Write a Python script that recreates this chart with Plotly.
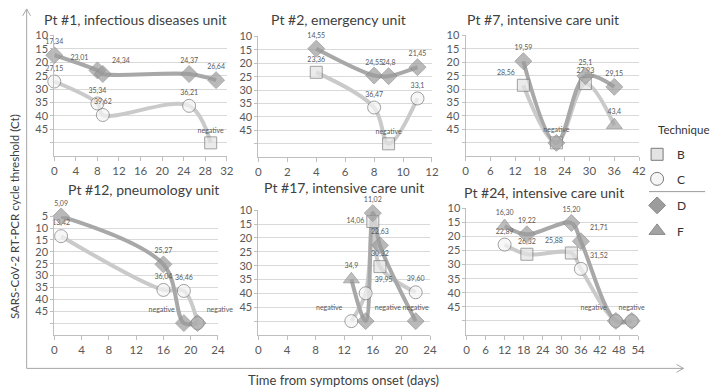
import plotly.graph_objects as go

W, H = 722, 389
NEG = "negative"
NEG_CT = 50  # plotting level used for negative results

# ---------------- data ----------------
titles = ["Pt #1, infectious diseases unit", "Pt #2, emergency unit",
          "Pt #7, intensive care unit", "Pt #12, pneumology unit",
          "Pt #17, intensive care unit", "Pt #24, intensive care unit"]

# series a (darker line) / series b (lighter line) per patient
p1_days_a = [0, 8, 9, 25, 30]
p1_ct_a = ["17,34", "23,01", "24,34", "24,37", "26,64"]
p1_tech_a = ["D", "D", "D", "D", "D"]
p1_days_b = [0, 8, 9, 25, 29]
p1_ct_b = ["27,15", "35,34", "39,62", "36,21", NEG]
p1_tech_b = ["C", "C", "C", "C", "B"]

p2_days_a = [4, 8, 9, 11]
p2_ct_a = ["14,55", "24,55", "24,8", "21,45"]
p2_tech_a = ["D", "D", "D", "D"]
p2_days_b = [4, 8, 9, 11]
p2_ct_b = ["23,36", "36,47", NEG, "33,1"]
p2_tech_b = ["B", "C", "B", "C"]

p7_days_a = [14, 22, 29, 36]
p7_ct_a = ["19,59", NEG, "25,1", "29,15"]
p7_tech_a = ["D", "D", "D", "D"]
p7_days_b = [14, 22, 29, 36]
p7_ct_b = ["28,56", NEG, "27,93", "43,4"]
p7_tech_b = ["B", "B", "B", "F"]

p12_days_a = [1, 16, 19, 21]
p12_ct_a = ["5,09", "25,27", NEG, NEG]
p12_tech_a = ["D", "D", "D", "D"]
p12_days_b = [1, 16, 19, 21]
p12_ct_b = ["13,42", "36,04", "36,46", NEG]
p12_tech_b = ["C", "C", "C", "C"]

p17_days_a = [13, 15, 16, 17, 22]
p17_ct_a = ["34,9", NEG, "11,02", "22,63", NEG]
p17_tech_a = ["F", "D", "D", "D", "D"]
p17_days_b = [13, 15, 16, 17, 22]
p17_ct_b = [NEG, "39,95", "14,06", "30,32", "39,60"]
p17_tech_b = ["C", "C", "B", "B", "C"]

p24_days_a = [12, 19, 33, 36, 47, 52]
p24_ct_a = ["16,30", "19,22", "15,20", "21,71", NEG, NEG]
p24_tech_a = ["F", "D", "D", "D", "D", "D"]
p24_days_b = [12, 19, 33, 36, 47, 52]
p24_ct_b = ["22,89", "26,32", "25,88", "31,52", NEG, NEG]
p24_tech_b = ["C", "B", "B", "C", "C", "C"]

x_ticks = [[0, 4, 8, 12, 16, 20, 24, 28, 32],
           [0, 2, 4, 6, 8, 10, 12],
           [0, 6, 12, 18, 24, 30, 36, 42],
           [0, 4, 8, 12, 16, 20, 24],
           [0, 4, 8, 12, 16, 20, 24],
           [0, 6, 12, 18, 24, 30, 36, 42, 48, 54]]
y_ticks_row1 = [10, 15, 20, 25, 30, 35, 40, 45]
y_ticks_p12 = [5, 10, 15, 20, 25, 30, 35, 40, 45]

techniques = ["B", "C", "D", "F"]

panels = [
    (p1_days_a, p1_ct_a, p1_tech_a, p1_days_b, p1_ct_b, p1_tech_b),
    (p2_days_a, p2_ct_a, p2_tech_a, p2_days_b, p2_ct_b, p2_tech_b),
    (p7_days_a, p7_ct_a, p7_tech_a, p7_days_b, p7_ct_b, p7_tech_b),
    (p12_days_a, p12_ct_a, p12_tech_a, p12_days_b, p12_ct_b, p12_tech_b),
    (p17_days_a, p17_ct_a, p17_tech_a, p17_days_b, p17_ct_b, p17_tech_b),
    (p24_days_a, p24_ct_a, p24_tech_a, p24_days_b, p24_ct_b, p24_tech_b),
]
y_ticks = [y_ticks_row1, y_ticks_row1, y_ticks_row1, y_ticks_p12, y_ticks_row1, y_ticks_row1]

# ---------------- layout geometry (pixels) ----------------
boxes = [(52, 227, 29, 152), (259, 435, 30, 153), (469, 645, 29, 152),
         (52, 218, 213, 334), (259, 433, 207, 334), (470, 644, 205, 334)]
title_pos = [(134, 13), (340, 13), (548, 13), (142, 186), (346, 184), (549, 189)]

def px(x):
    return x / W

def py(y):
    return 1 - y / H

FONT = "Lato"
STY = {
    "B": dict(symbol="square", size=12, color="#e3e3e3", line="#7a7a7a"),
    "C": dict(symbol="circle", size=13, color="#f5f5f5", line="#7a7a7a"),
    "D": dict(symbol="diamond", size=13, color="#9c9c9c", line="#8a8a8a"),
    "F": dict(symbol="triangle-up", size=14, color="#a3a3a3", line="#8a8a8a"),
}
LINE_COL = {"a": "#a8a8a8", "b": "#cacaca"}

# text position overrides: (panel, series, index) -> position
TPOS = {
    (0, "a", 1): "top left", (0, "a", 2): "top right",
    (2, "b", 0): "top left",
    (3, "a", 2): "top left", (3, "a", 3): "top right",
    (4, "b", 2): "middle left", (4, "b", 1): "top right",
    (4, "b", 0): "top left", (4, "a", 1): "top right",
    (5, "b", 2): "top left", (5, "a", 3): "top right", (5, "b", 3): "top right",
    (5, "a", 4): "top left",
}

def to_ct(s):
    return NEG_CT if s == NEG else float(s.replace(",", "."))

fig = go.Figure()
line_traces, marker_traces = [], []
for i, (da, ca, ta, db, cb, tb) in enumerate(panels):
    xa = "x" if i == 0 else f"x{i+1}"
    ya = "y" if i == 0 else f"y{i+1}"
    neg_days_a = {d for d, c in zip(da, ca) if c == NEG}
    for key, days, cts, techs in (("b", db, cb, tb), ("a", da, ca, ta)):
        yv = [to_ct(c) for c in cts]
        line_traces.append(go.Scatter(
            x=days, y=yv, xaxis=xa, yaxis=ya, mode="lines",
            line=dict(color=LINE_COL[key], width=4, shape="spline", smoothing=1),
            hoverinfo="skip", showlegend=False, cliponaxis=False))
        texts = []
        for d, c in zip(days, cts):
            if key == "b" and c == NEG and d in neg_days_a:
                texts.append("")
            else:
                texts.append(c)
        tpos = [TPOS.get((i, key, k), "top center") for k in range(len(days))]
        marker_traces.append(go.Scatter(
            x=days, y=yv, xaxis=xa, yaxis=ya, mode="markers+text",
            text=texts, textposition=tpos,
            textfont=dict(family=FONT, size=7, color="#595959"),
            marker=dict(symbol=[STY[t]["symbol"] for t in techs],
                        size=[STY[t]["size"] for t in techs],
                        color=[STY[t]["color"] for t in techs],
                        line=dict(color=[STY[t]["line"] for t in techs], width=1)),
            showlegend=False, cliponaxis=False))
for t in line_traces + marker_traces:
    fig.add_trace(t)

# legend entries (one legend per technique for exact placement)
leg_y = {"B": 150, "C": 175, "D": 202, "F": 228}
for j, t in enumerate(techniques):
    lname = "legend" if j == 0 else f"legend{j+1}"
    fig.add_trace(go.Scatter(
        x=[None], y=[None], mode="markers", name=t, legend=lname,
        marker=dict(symbol=STY[t]["symbol"], size=STY[t]["size"], color=STY[t]["color"],
                    line=dict(color=STY[t]["line"], width=1))))

layout = dict(
    width=W, height=H, margin=dict(l=0, r=0, t=0, b=0),
    paper_bgcolor="white", plot_bgcolor="white",
    font=dict(family=FONT, color="#404040"),
)
for j, t in enumerate(techniques):
    lname = "legend" if j == 0 else f"legend{j+1}"
    layout[lname] = dict(x=px(643), y=py(leg_y[t]), xanchor="left", yanchor="middle",
                         font=dict(family=FONT, size=12, color="#333333"),
                         bgcolor="rgba(0,0,0,0)", borderwidth=0,
                         tracegroupgap=0)

for i, (x0, x1, y0, y1) in enumerate(boxes):
    xk = "xaxis" if i == 0 else f"xaxis{i+1}"
    yk = "yaxis" if i == 0 else f"yaxis{i+1}"
    ya = "y" if i == 0 else f"y{i+1}"
    xa = "x" if i == 0 else f"x{i+1}"
    xt = x_ticks[i]
    yt = y_ticks[i]
    layout[xk] = dict(domain=[px(x0), px(x1)], range=[xt[0], xt[-1]], anchor=ya,
                      tickvals=xt, ticktext=[str(v) for v in xt],
                      showline=True, linecolor="#bfbfbf", linewidth=1,
                      ticks="outside", ticklen=4, tickcolor="#bfbfbf",
                      showgrid=False, zeroline=False,
                      tickfont=dict(family=FONT, size=11.5, color="#595959"))
    layout[yk] = dict(domain=[py(y1), py(y0)], range=[55, yt[0]], anchor=xa,
                      tickvals=yt + [50], ticktext=[str(v) for v in yt] + [""],
                      showline=True, linecolor="#bfbfbf", linewidth=1,
                      ticks="outside", ticklen=3, tickcolor="#bfbfbf",
                      showgrid=True, gridcolor="#d9d9d9", gridwidth=1, zeroline=False,
                      tickfont=dict(family=FONT, size=11, color="#595959"))

annotations = []
for (cx, cy), t in zip(title_pos, titles):
    annotations.append(dict(text=t, x=px(cx), y=py(cy), xref="paper", yref="paper",
                            showarrow=False, xanchor="center", yanchor="middle",
                            font=dict(family=FONT, size=14, color="#404040")))
annotations.append(dict(text="SARS-CoV-2 RT-PCR cycle threshold (Ct)", x=px(11), y=py(213),
                        xref="paper", yref="paper", showarrow=False, textangle=-90,
                        xanchor="center", yanchor="middle",
                        font=dict(family=FONT, size=11.5, color="#404040")))
annotations.append(dict(text="Time from symptoms onset (days)", x=px(345), y=py(380),
                        xref="paper", yref="paper", showarrow=False,
                        xanchor="center", yanchor="middle",
                        font=dict(family=FONT, size=13, color="#404040")))
annotations.append(dict(text="Technique", x=px(662), y=py(125), xref="paper", yref="paper",
                        showarrow=False, xanchor="left", yanchor="middle",
                        font=dict(family=FONT, size=11.5, color="#333333")))
layout["annotations"] = annotations

AX = "#a6a6a6"
def seg(xa_, ya_, xb_, yb_, col=AX, w=1):
    return dict(type="line", xref="paper", yref="paper", x0=px(xa_), y0=py(ya_),
                x1=px(xb_), y1=py(yb_), line=dict(color=col, width=w))

layout["shapes"] = [
    seg(24, 2, 24, 368), seg(24, 368, 690, 368),
    seg(20, 9, 24, 2), seg(24, 2, 28, 9),
    seg(683, 364, 690, 368), seg(690, 368, 683, 372),
    seg(655, 188, 712, 188, col="#9a9a9a"),
]

fig.update_layout(**layout)
fig.write_html("out.html", config={"displayModeBar": False},
               post_script="document.body.style.margin='0px';document.body.style.overflow='hidden';")
